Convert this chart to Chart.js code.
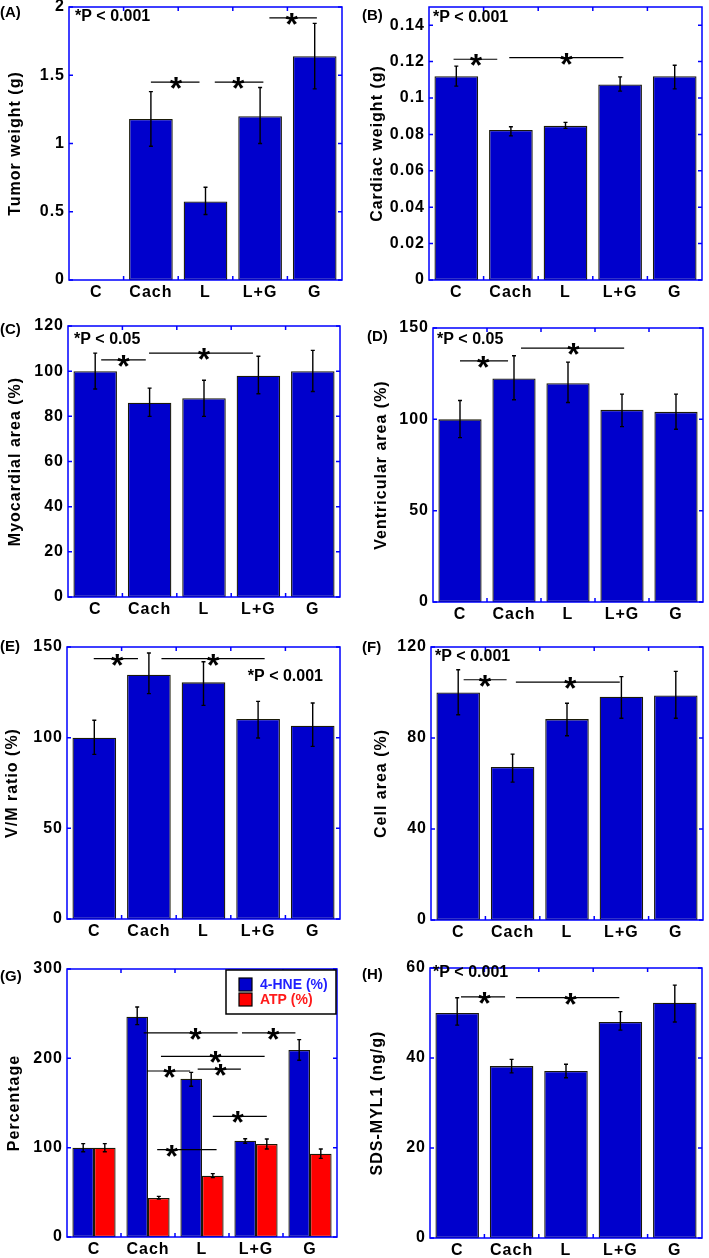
<!DOCTYPE html>
<html>
<head>
<meta charset="utf-8">
<script src="https://cdn.jsdelivr.net/npm/chart.js@4.4.1/dist/chart.umd.min.js"></script>
<style>
  html, body { margin: 0; padding: 0; background: #fff; }
  #fig { position: relative; width: 709px; height: 1258px; overflow: hidden; }
  #fig canvas { position: absolute; }
  .tag { position: absolute; font: bold 15px "Liberation Sans", Arial, sans-serif; color: #000; line-height: 15px; }
</style>
</head>
<body>
<div id="fig"></div>
<script>
const grupos = ["C", "Cach", "L", "L+G", "G"];

// (A) peso tumoral
const pesoTumor = [0, 1.18, 0.575, 1.2, 1.64];
const pesoTumorAlto = [null, 1.38, 0.68, 1.41, 1.88];
const pesoTumorBajo = [null, 0.98, 0.48, 1.0, 1.40];
const sigA = [[1.0, 1.89, 1.45, 1.46], [2.17, 3.06, 1.45, 2.6], [3.17, 4.04, 1.92, 3.58]];

// (B) peso cardiaco
const pesoCardiaco = [0.112, 0.0824, 0.0847, 0.1074, 0.112];
const pesoCardiacoAlto = [0.1175, 0.0842, 0.0866, 0.1116, 0.118];
const pesoCardiacoBajo = [0.1065, 0.0792, 0.0833, 0.1038, 0.105];
const sigB = [[-0.05, 0.75, 0.1213, 0.36], [0.97, 3.06, 0.1222, 2.02]];

// (C) area miocardica
const areaMiocardio = [100, 86, 88, 98, 100];
const areaMiocardioAlto = [108, 92.5, 96, 106.6, 109.2];
const areaMiocardioBajo = [92.1, 80, 80, 90, 91];
const sigC = [[0.11, 0.93, 105, 0.52], [0.99, 2.9, 108, 2.0]];

// (D) area ventricular
const areaVentriculo = [100, 122.4, 119.8, 105.2, 104.1];
const areaVentriculoAlto = [110.3, 134.8, 131.3, 113.8, 113.8];
const areaVentriculoBajo = [90, 110.7, 109.2, 96, 94.6];
const sigD = [[0.0, 0.89, 132, 0.43], [1.13, 3.04, 139, 2.1]];

// (E) V/M
const ratioVM = [100, 134.7, 130.5, 110.3, 106.6];
const ratioVMAlto = [109.6, 146.7, 141.9, 120, 119.1];
const ratioVMBajo = [90.8, 124.3, 117.8, 99.8, 95.2];
const sigE = [[-0.01, 0.8, 143.6, 0.42], [1.23, 3.12, 143.6, 2.18]];

// (F) area celular
const areaCelula = [100, 67.3, 88.3, 98.1, 98.7];
const areaCelulaAlto = [110, 72.9, 95.3, 107, 109.3];
const areaCelulaBajo = [90.2, 60.6, 81, 88.7, 88.7];
const sigF = [[0.1, 0.89, 105.6, 0.49], [1.06, 2.97, 104.6, 2.06]];

// (G) 4-HNE y ATP
const hne = [100, 246.6, 177.2, 107.8, 209.3];
const hneAlto = [104.5, 257.5, 184.3, 110, 220.9];
const hneBajo = [95.5, 237.7, 168.7, 105, 197.8];
const atp = [100, 43.7, 68.7, 104.1, 93.3];
const atpAlto = [104.5, 45.5, 70.9, 109.7, 98.5];
const atpBajo = [95.5, 42.5, 66.5, 98.5, 88];
const sigG = [
  [0.92, 2.66, 228.4, 1.88], [2.74, 3.73, 228.4, 3.32], [1.24, 3.16, 202.2, 2.25],
  [0.98, 1.78, 185.8, 1.4], [1.92, 2.72, 188, 2.34], [2.2, 3.2, 135, 2.66], [1.17, 2.27, 97.8, 1.44]
];

// (H) SDS-MYL1
const myl1 = [50, 38.2, 37.1, 48, 52.3];
const myl1Alto = [53.4, 39.7, 38.6, 50.3, 56.2];
const myl1Bajo = [47.3, 36.7, 35.6, 46.2, 48];
const sigH = [[0.07, 0.88, 53.6, 0.5], [1.08, 2.98, 53.4, 2.08]];

const AZUL = "#0000CC";
const ROJO = "#FF0000";
const FAMILIA = "'Liberation Sans', Arial, sans-serif";

const paneles = [
  { tag: "(A)", tagPos: [0, 4], x0: 0, area: [69, 7, 342, 280], max: 2, paso: 0.5, titulo: "Tumor weight (g)", tituloPad: 6,
    series: [{ label: "Tumor weight", data: pesoTumor, alto: pesoTumorAlto, bajo: pesoTumorBajo, color: AZUL }],
    sig: sigA, nota: { texto: "*P < 0.001", dx: 6, dy: 10, lado: "left" } },
  { tag: "(B)", tagPos: [362, 7], x0: 352, area: [429, 7, 702, 280], max: 0.15, paso: 0.02, titulo: "Cardiac weight (g)", tituloPad: 16,
    series: [{ label: "Cardiac weight", data: pesoCardiaco, alto: pesoCardiacoAlto, bajo: pesoCardiacoBajo, color: AZUL }],
    sig: sigB, nota: { texto: "*P < 0.001", dx: 4, dy: 11, lado: "left" } },
  { tag: "(C)", tagPos: [0, 321], x0: 0, area: [68, 326, 340, 597], max: 120, paso: 20, titulo: "Myocardial area (%)", tituloPad: 6,
    series: [{ label: "Myocardial area", data: areaMiocardio, alto: areaMiocardioAlto, bajo: areaMiocardioBajo, color: AZUL }],
    sig: sigC, nota: { texto: "*P < 0.05", dx: 6, dy: 14, lado: "left" } },
  { tag: "(D)", tagPos: [367, 328], x0: 352, area: [433, 328, 703, 602], max: 150, paso: 50, titulo: "Ventricular area (%)", tituloPad: 20,
    series: [{ label: "Ventricular area", data: areaVentriculo, alto: areaVentriculoAlto, bajo: areaVentriculoBajo, color: AZUL }],
    sig: sigD, nota: { texto: "*P < 0.05", dx: 4, dy: 12, lado: "left" } },
  { tag: "(E)", tagPos: [0, 638], x0: 0, area: [67, 647, 340, 919], max: 150, paso: 50, titulo: "V/M ratio (%)", tituloPad: 3,
    series: [{ label: "V/M ratio", data: ratioVM, alto: ratioVMAlto, bajo: ratioVMBajo, color: AZUL }],
    sig: sigE, nota: { texto: "*P < 0.001", dx: 17, dy: 30, lado: "right" } },
  { tag: "(F)", tagPos: [362, 639], x0: 352, area: [431, 647, 703, 920], max: 120, paso: 40, titulo: "Cell area (%)", tituloPad: 20,
    series: [{ label: "Cell area", data: areaCelula, alto: areaCelulaAlto, bajo: areaCelulaBajo, color: AZUL }],
    sig: sigF, nota: { texto: "*P < 0.001", dx: 4, dy: 10, lado: "left" } },
  { tag: "(G)", tagPos: [0, 968], x0: 0, area: [67, 969, 337, 1237], max: 300, paso: 100, titulo: "Percentage", tituloPad: 5,
    series: [
      { label: "4-HNE (%)", data: hne, alto: hneAlto, bajo: hneBajo, color: AZUL, texto: "#1f1fff" },
      { label: "ATP (%)", data: atp, alto: atpAlto, bajo: atpBajo, color: ROJO, texto: "#ff1a1a" }
    ],
    sig: sigG, leyenda: true },
  { tag: "(H)", tagPos: [362, 966], x0: 352, area: [430, 968, 702, 1238], max: 60, paso: 20, titulo: "SDS-MYL1 (ng/g)", tituloPad: 16,
    series: [{ label: "SDS-MYL1", data: myl1, alto: myl1Alto, bajo: myl1Bajo, color: AZUL }],
    sig: sigH, nota: { texto: "*P < 0.001", dx: 3, dy: 5, lado: "left" } }
];

const pluginMatlab = {
  id: "matlab",
  beforeDraw(chart) {
    chart.ctx.letterSpacing = "1px";
  },
  afterDatasetsDraw(chart, args, op) {
    const { ctx, chartArea: a, scales: { x, y } } = chart;
    ctx.save();
    ctx.letterSpacing = "0px";

    // caja azul con marcas hacia dentro
    ctx.strokeStyle = "#0000FF";
    ctx.lineWidth = 1.5;
    ctx.strokeRect(a.left, a.top, a.right - a.left, a.bottom - a.top);
    ctx.beginPath();
    y.ticks.forEach(t => {
      const py = y.getPixelForValue(t.value);
      ctx.moveTo(a.left, py); ctx.lineTo(a.left + 4, py);
      ctx.moveTo(a.right, py); ctx.lineTo(a.right - 4, py);
    });
    for (let i = 1; i < grupos.length; i++) {
      const px = x.getPixelForValue(i - 0.5);
      ctx.moveTo(px, a.bottom); ctx.lineTo(px, a.bottom - 4);
      ctx.moveTo(px, a.top); ctx.lineTo(px, a.top + 4);
    }
    ctx.stroke();

    // barras de error
    ctx.strokeStyle = "#000";
    ctx.lineWidth = 1.4;
    chart.data.datasets.forEach((ds, d) => {
      const meta = chart.getDatasetMeta(d);
      ds.data.forEach((v, i) => {
        if (ds.alto[i] == null) return;
        const px = meta.data[i].x;
        const y1 = y.getPixelForValue(ds.alto[i]);
        const y2 = y.getPixelForValue(ds.bajo[i]);
        ctx.beginPath();
        ctx.moveTo(px, y1); ctx.lineTo(px, y2);
        ctx.moveTo(px - 2, y1); ctx.lineTo(px + 2, y1);
        ctx.moveTo(px - 2, y2); ctx.lineTo(px + 2, y2);
        ctx.stroke();
      });
    });

    // significancia
    ctx.lineWidth = 1.2;
    ctx.fillStyle = "#000";
    ctx.font = "bold 32px " + FAMILIA;
    ctx.textAlign = "center";
    ctx.textBaseline = "alphabetic";
    (op.sig || []).forEach(([x1, x2, v, xs]) => {
      const py = y.getPixelForValue(v);
      ctx.beginPath();
      ctx.moveTo(x.getPixelForValue(x1), py);
      ctx.lineTo(x.getPixelForValue(x2), py);
      ctx.stroke();
      ctx.fillText("*", x.getPixelForValue(xs), py + 17);
    });

    if (op.nota) {
      const n = op.nota;
      ctx.font = "bold 16px " + FAMILIA;
      ctx.textAlign = n.lado;
      ctx.textBaseline = "middle";
      const nx = n.lado === "right" ? a.right - n.dx : a.left + n.dx;
      ctx.fillText(n.texto, nx, a.top + n.dy);
    }

    if (op.leyenda) {
      const bx = a.right - 111;
      const by = a.top + 1;
      ctx.fillStyle = "#fff";
      ctx.fillRect(bx, by, 110, 44);
      ctx.strokeStyle = "#000";
      ctx.lineWidth = 1.5;
      ctx.strokeRect(bx, by, 110, 44);
      ctx.font = "bold 14px " + FAMILIA;
      ctx.textAlign = "left";
      ctx.textBaseline = "middle";
      chart.data.datasets.forEach((ds, d) => {
        const sy = by + 8 + d * 15;
        ctx.fillStyle = ds.backgroundColor;
        ctx.fillRect(bx + 13, sy, 13, 13);
        ctx.lineWidth = 1.2;
        ctx.strokeRect(bx + 13, sy, 13, 13);
        ctx.fillStyle = ds.texto;
        ctx.fillText(ds.label, bx + 34, sy + 7);
      });
    }
    ctx.restore();
  }
};

function crearPanel(p) {
  const fig = document.getElementById("fig");
  const [l, t, r, b] = p.area;
  const canvas = document.createElement("canvas");
  canvas.width = r - p.x0 + 5;
  canvas.height = b - t + 14 + 28;
  canvas.style.left = p.x0 + "px";
  canvas.style.top = (t - 14) + "px";
  fig.appendChild(canvas);

  const tag = document.createElement("div");
  tag.className = "tag";
  tag.textContent = p.tag;
  tag.style.left = p.tagPos[0] + "px";
  tag.style.top = p.tagPos[1] + "px";
  fig.appendChild(tag);

  const fuente = { family: FAMILIA, size: 16, weight: "bold" };

  new Chart(canvas, {
    type: "bar",
    data: {
      labels: grupos,
      datasets: p.series.map(s => ({
        label: s.label,
        data: s.data,
        alto: s.alto,
        bajo: s.bajo,
        texto: s.texto,
        backgroundColor: s.color,
        borderColor: "#1a1a08",
        borderWidth: 1.3,
        borderSkipped: false,
        categoryPercentage: 0.8,
        barPercentage: 1.0
      }))
    },
    options: {
      responsive: false,
      animation: false,
      devicePixelRatio: 1,
      layout: { padding: { top: 14, right: 5, left: 0, bottom: 0 } },
      plugins: {
        legend: { display: false },
        tooltip: { enabled: false },
        matlab: { sig: p.sig, nota: p.nota, leyenda: p.leyenda }
      },
      scales: {
        x: {
          offset: true,
          grid: { display: false, drawTicks: false },
          border: { display: false },
          ticks: { color: "#000", font: fuente, padding: 3, maxRotation: 0, autoSkip: false },
          afterFit: s => { s.height = 28; }
        },
        y: {
          min: 0,
          max: p.max,
          grid: { display: false, drawTicks: false },
          border: { display: false },
          ticks: {
            stepSize: p.paso,
            includeBounds: false,
            color: "#000",
            font: fuente,
            padding: 4,
            callback: value => String(Number(Number(value).toFixed(4)))
          },
          title: { display: true, text: p.titulo, color: "#000", font: fuente, padding: { top: p.tituloPad, bottom: 0 } },
          afterFit: s => { s.width = l - p.x0; }
        }
      }
    },
    plugins: [pluginMatlab]
  });
}

paneles.forEach(crearPanel);
</script>
</body>
</html>
